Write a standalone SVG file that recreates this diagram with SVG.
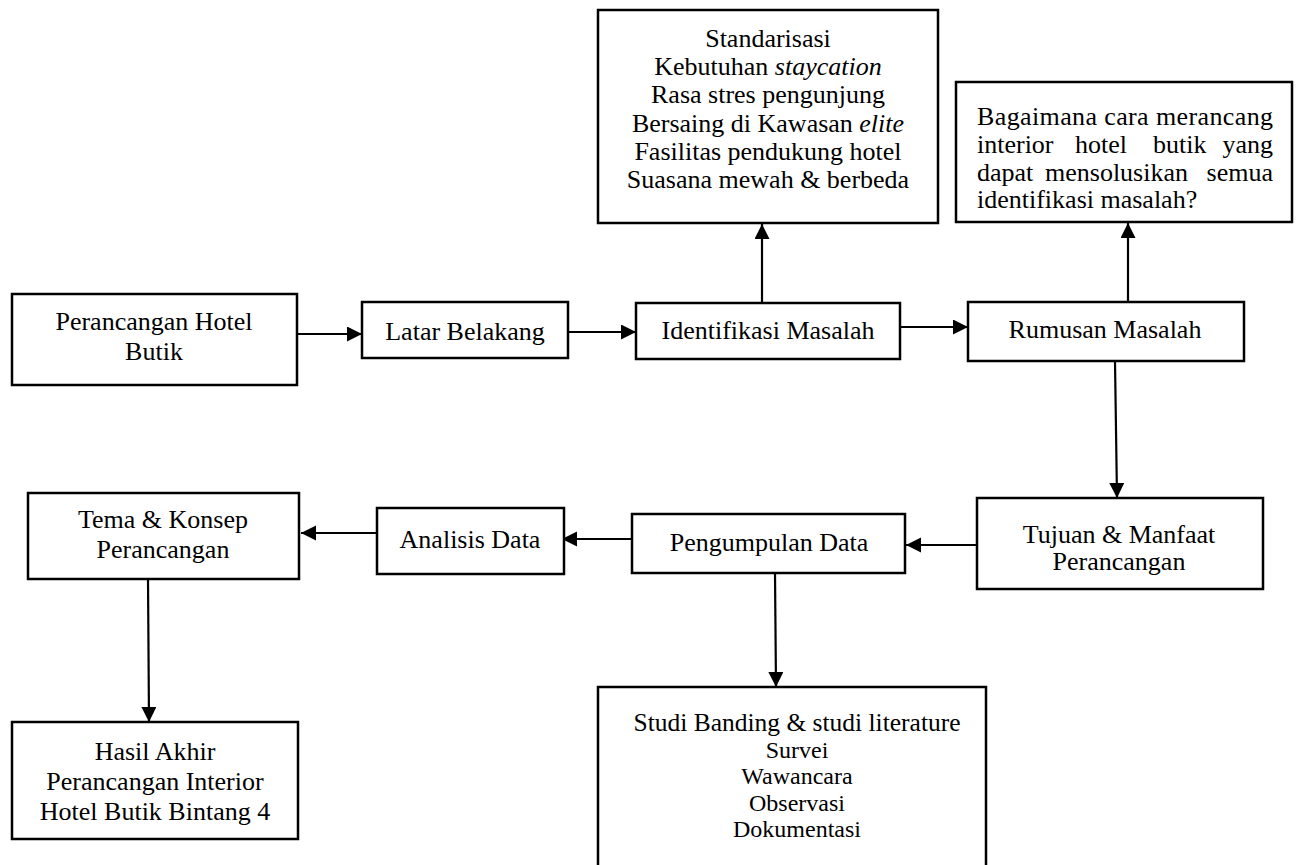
<svg xmlns="http://www.w3.org/2000/svg" width="1296" height="865" viewBox="0 0 1296 865">
<style>
.box{fill:#fff;stroke:#000;stroke-width:2.5}
.t{font-family:"Liberation Serif","Times New Roman",serif;font-size:26px;fill:#000;text-anchor:middle}
.s{font-size:24px}
.l{text-anchor:start}
.e{text-anchor:end}
.c{stroke:#000;stroke-width:2.2;fill:none}
</style>
<defs>
<marker id="ah" markerWidth="16" markerHeight="16" refX="15" refY="7.5" orient="auto" markerUnits="userSpaceOnUse">
<path d="M0,0 L15,7.5 L0,15 Z" fill="#000"/>
</marker>
</defs>
<rect width="1296" height="865" fill="#fff"/>
<g id="connectors">
<line class="c" x1="297" y1="334" x2="362" y2="334" marker-end="url(#ah)"/>
<line class="c" x1="568" y1="332" x2="636" y2="332" marker-end="url(#ah)"/>
<line class="c" x1="900" y1="327" x2="968" y2="327" marker-end="url(#ah)"/>
<line class="c" x1="762" y1="303" x2="762" y2="224" marker-end="url(#ah)"/>
<line class="c" x1="1128" y1="302" x2="1128" y2="223" marker-end="url(#ah)"/>
<line class="c" x1="1115" y1="361" x2="1117" y2="498" marker-end="url(#ah)"/>
<line class="c" x1="977" y1="545" x2="906" y2="545" marker-end="url(#ah)"/>
<line class="c" x1="632" y1="539" x2="562" y2="539" marker-end="url(#ah)"/>
<line class="c" x1="377" y1="533" x2="301" y2="533" marker-end="url(#ah)"/>
<line class="c" x1="148" y1="579" x2="149" y2="722" marker-end="url(#ah)"/>
<line class="c" x1="775" y1="573" x2="776" y2="687" marker-end="url(#ah)"/>
</g>
<g id="n-perancangan">
<rect class="box" x="12" y="294" width="285" height="91"/>
<text class="t" x="154" y="330">Perancangan Hotel</text>
<text class="t" x="154" y="360">Butik</text>
</g>
<g id="n-latar">
<rect class="box" x="362" y="302" width="206" height="56"/>
<text class="t" x="465" y="340">Latar Belakang</text>
</g>
<g id="n-identifikasi">
<rect class="box" x="636" y="303" width="264" height="56"/>
<text class="t" x="768" y="339">Identifikasi Masalah</text>
</g>
<g id="n-standarisasi">
<rect class="box" x="598" y="10" width="340" height="213"/>
<text class="t" x="768" y="47">Standarisasi</text>
<text class="t" x="768" y="75">Kebutuhan <tspan font-style="italic">staycation</tspan></text>
<text class="t" x="768" y="103">Rasa stres pengunjung</text>
<text class="t" x="768" y="132">Bersaing di Kawasan <tspan font-style="italic">elite</tspan></text>
<text class="t" x="768" y="160">Fasilitas pendukung hotel</text>
<text class="t" x="768" y="188">Suasana mewah &amp; berbeda</text>
</g>
<g id="n-rumusan">
<rect class="box" x="968" y="302" width="276" height="59"/>
<text class="t" x="1105" y="338">Rumusan Masalah</text>
</g>
<g id="n-bagaimana">
<rect class="box" x="956" y="82" width="336" height="140"/>
<text class="t l" x="977" y="125" textLength="296" lengthAdjust="spacing">Bagaimana cara merancang</text>
<text class="t l" x="977" y="153">interior</text>
<text class="t l" x="1075" y="153">hotel</text>
<text class="t l" x="1153" y="153">butik</text>
<text class="t e" x="1273" y="153">yang</text>
<text class="t l" x="977" y="181">dapat</text>
<text class="t l" x="1045" y="181">mensolusikan</text>
<text class="t e" x="1273" y="181">semua</text>
<text class="t l" x="977" y="208">identifikasi masalah?</text>
</g>
<g id="n-tujuan">
<rect class="box" x="977" y="498" width="286" height="91"/>
<text class="t" x="1119" y="543">Tujuan &amp; Manfaat</text>
<text class="t" x="1119" y="570">Perancangan</text>
</g>
<g id="n-pengumpulan">
<rect class="box" x="632" y="514" width="273" height="59"/>
<text class="t" x="769" y="551">Pengumpulan Data</text>
</g>
<g id="n-analisis">
<rect class="box" x="377" y="508" width="187" height="66"/>
<text class="t" x="470" y="548">Analisis Data</text>
</g>
<g id="n-tema">
<rect class="box" x="28" y="493" width="271" height="86"/>
<text class="t" x="163" y="528">Tema &amp; Konsep</text>
<text class="t" x="163" y="558">Perancangan</text>
</g>
<g id="n-hasil">
<rect class="box" x="12" y="722" width="286" height="117"/>
<text class="t" x="155" y="760">Hasil Akhir</text>
<text class="t" x="155" y="790">Perancangan Interior</text>
<text class="t" x="155" y="820">Hotel Butik Bintang 4</text>
</g>
<g id="n-studi">
<rect class="box" x="598" y="687" width="388" height="200"/>
<text class="t" x="797" y="731" textLength="327" lengthAdjust="spacingAndGlyphs">Studi Banding &amp; studi literature</text>
<text class="t s" x="797" y="757.5">Survei</text>
<text class="t s" x="797" y="784">Wawancara</text>
<text class="t s" x="797" y="810.5">Observasi</text>
<text class="t s" x="797" y="837">Dokumentasi</text>
</g>
</svg>
